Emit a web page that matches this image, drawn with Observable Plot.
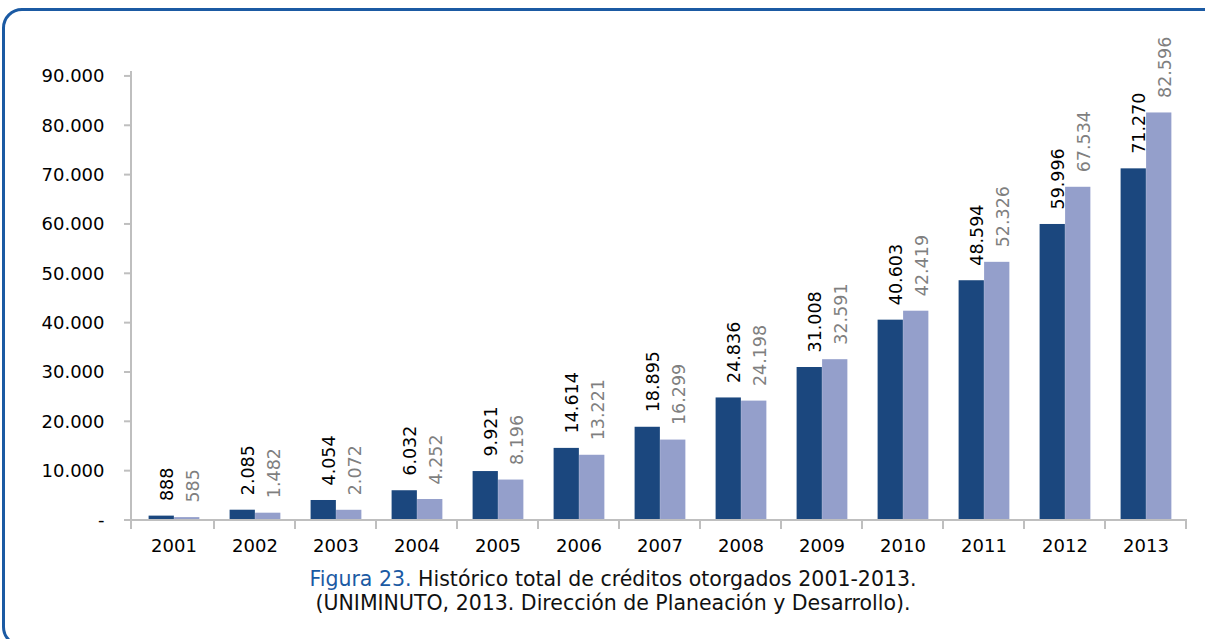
<!DOCTYPE html>
<html>
<head>
<meta charset="utf-8">
<script src="https://cdn.jsdelivr.net/npm/d3@7"></script>
<script src="https://cdn.jsdelivr.net/npm/@observablehq/plot@0.6"></script>
<style>
  html, body { margin: 0; padding: 0; background: #fff; }
  body { width: 1205px; height: 639px; position: relative; overflow: hidden; font-family: "DejaVu Sans", sans-serif; }
  #frame { position: absolute; left: 2px; top: 8px; width: 1240px; height: 639px; border: 3px solid #1b5aa3; border-radius: 20px; box-sizing: border-box; }
  #chart { position: absolute; left: 0; top: 0; }
  #caption { position: absolute; left: 0; width: 1226px; top: 567px; text-align: center; font-size: 20.5px; line-height: 24px; color: #111; }
  #caption .fig { color: #1b5aa3; }
</style>
</head>
<body>
<div id="frame"></div>
<div id="chart"></div>
<div id="caption"><span class="fig">Figura 23.</span> Histórico total de créditos otorgados 2001-2013.<br>(UNIMINUTO, 2013. Dirección de Planeación y Desarrollo).</div>
<script>
const years = ["2001","2002","2003","2004","2005","2006","2007","2008","2009","2010","2011","2012","2013"];
const seriesA = [888, 2085, 4054, 6032, 9921, 14614, 18895, 24836, 31008, 40603, 48594, 59996, 71270];
const seriesB = [585, 1482, 2072, 4252, 8196, 13221, 16299, 24198, 32591, 42419, 52326, 67534, 82596];
const yTicks = [0, 10000, 20000, 30000, 40000, 50000, 60000, 70000, 80000, 90000];
const yTickLabels = ["-", "10.000", "20.000", "30.000", "40.000", "50.000", "60.000", "70.000", "80.000", "90.000"];

const darkColor = "#1b477e";
const lightColor = "#949fcb";
const fmt = v => d3.format(",")(v).replace(/,/g, ".");

const dataA = years.map((y, i) => ({year: y, value: seriesA[i]}));
const dataB = years.map((y, i) => ({year: y, value: seriesB[i]}));

const W = 1205, H = 560, ML = 131, MR = 18, MT = 71, MB = 40;
const step = (W - ML - MR) / years.length;
const barW = 25.5;
const padL = 15.6;
const insA = {insetLeft: padL, insetRight: step - padL - barW};
const insB = {insetLeft: padL + barW, insetRight: step - padL - 2 * barW};
const cA = padL + barW / 2 - step / 2;
const cB = padL + barW * 1.5 - step / 2;

function axes(index, scales, values, dimensions) {
  const g = d3.create("svg:g").attr("stroke", "#bfbfbf").attr("stroke-width", 2).attr("fill", "none");
  const y0 = scales.y(0), yTop = scales.y(91000);
  const left = dimensions.marginLeft, right = dimensions.width - dimensions.marginRight;
  g.append("line").attr("x1", left).attr("x2", left).attr("y1", yTop).attr("y2", y0 + 9);
  g.append("line").attr("x1", left - 7).attr("x2", right).attr("y1", y0).attr("y2", y0);
  for (const t of yTicks) {
    g.append("line").attr("x1", left - 7).attr("x2", left).attr("y1", scales.y(t)).attr("y2", scales.y(t));
  }
  const bw = scales.x.bandwidth();
  for (const yr of years) {
    const xr = scales.x(yr) + bw;
    g.append("line").attr("x1", xr).attr("x2", xr).attr("y1", y0).attr("y2", y0 + 9);
  }
  return g.node();
}

const chart = Plot.plot({
  width: W, height: H,
  marginLeft: ML, marginRight: MR, marginTop: MT, marginBottom: MB,
  style: {fontFamily: "DejaVu Sans, sans-serif", fontSize: "18px", color: "#000", background: "transparent"},
  x: {domain: years, padding: 0, label: null},
  y: {domain: [0, 91000], label: null},
  marks: [
    Plot.barY(dataA, {x: "year", y: "value", fill: darkColor, ...insA}),
    Plot.barY(dataB, {x: "year", y: "value", fill: lightColor, ...insB}),
    axes,
    Plot.axisY({ticks: yTicks, tickFormat: (d, i) => yTickLabels[yTicks.indexOf(d)], tickSize: 0, tickPadding: 27, fontSize: 18, label: null}),
    Plot.axisX({tickSize: 0, tickPadding: 19, fontSize: 18, label: null}),
    Plot.text(dataA, {x: "year", y: "value", text: d => fmt(d.value), rotate: -90, textAnchor: "start", lineAnchor: "middle", dx: cA + 6, dy: -15, fill: "#000", fontSize: 17.5}),
    Plot.text(dataB, {x: "year", y: "value", text: d => fmt(d.value), rotate: -90, textAnchor: "start", lineAnchor: "middle", dx: cB + 6, dy: -15, fill: "#7f7f7f", fontSize: 17.5})
  ]
});
document.getElementById("chart").appendChild(chart);
</script>
</body>
</html>
